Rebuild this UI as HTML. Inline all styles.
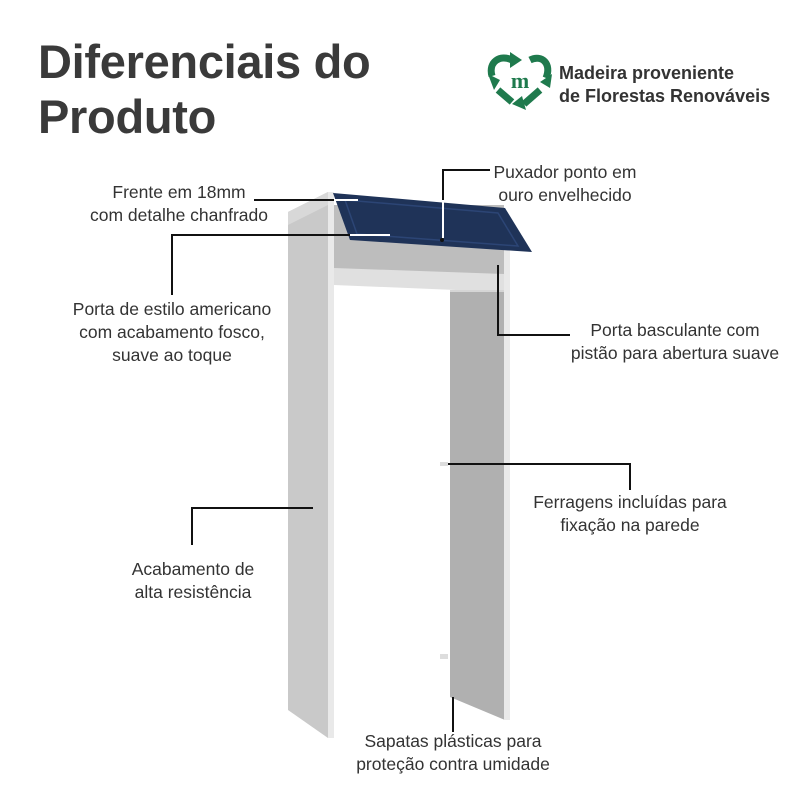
<!DOCTYPE html>
<html><head><meta charset="utf-8"><style>
html,body{margin:0;padding:0;background:#fff;}
body{width:800px;height:800px;position:relative;overflow:hidden;font-family:"Liberation Sans",sans-serif;color:#333;}
.t{position:absolute;font-size:17.5px;line-height:23px;text-align:center;white-space:nowrap;color:#333;}
h1{position:absolute;left:38px;top:34px;margin:0;font-size:47px;line-height:55px;font-weight:bold;color:#3a3a3a;letter-spacing:-0.3px;}
</style></head><body>
<h1>Diferenciais do<br>Produto</h1>
<svg width="800" height="800" style="position:absolute;left:0;top:0">
  <g fill="none" stroke="#1f7a4d" stroke-width="7" stroke-linecap="butt">
    <path d="M512 60 C500 54 488 62 492 76"/>
    <path d="M530 60 C542 54 552 64 546 78"/>
    <path d="M540 90 L524 104"/>
    <path d="M498 90 L512 102"/>
  </g>
  <g fill="#1f7a4d">
    <polygon points="510,52 522,60 510,68"/>
    <polygon points="540,82 552,74 550,88"/>
    <polygon points="522,96 526,110 512,104"/>
    <polygon points="488,74 500,80 494,90"/>
  </g>
  <text x="520" y="88" font-family="Liberation Serif,serif" font-size="22" font-weight="bold" fill="#1f7a4d" text-anchor="middle">m</text>
  <polygon points="288,212 328,192 328,738 288,710" fill="#c9c9c9"/>
  <polygon points="288,212 328,192 328,205 288,225" fill="#d8d8d8"/>
  <rect x="328" y="192" width="6" height="546" fill="#e9e9e9"/>
  <rect x="334" y="205" width="170" height="70" fill="#bdbdbd"/>
  <polygon points="334,268 504,274 504,292 334,285" fill="#e0e0e0"/>
  <rect x="450" y="290" width="55" height="10" fill="#d5d5d5"/>
  <polygon points="450,292 505,292 505,720 450,697" fill="#b0b0b0"/>
  <rect x="504" y="250" width="6" height="470" fill="#e9e9e9"/>
  <rect x="440" y="462" width="8" height="4" fill="#ddd"/>
  <rect x="440" y="654" width="8" height="5" fill="#ddd"/>
  <polygon points="333,193 505,208 532,252 350,240" fill="#1f3358"/>
  <polygon points="345,200 498,213 518,246 357,234" fill="none" stroke="#2c4575" stroke-width="1.5"/>
  <circle cx="442" cy="240" r="2" fill="#111"/>
  <g stroke="#111" stroke-width="2" fill="none">
    <polyline points="254,200 334,200"/>
    <polyline points="172,295 172,235 350,235"/>
    <polyline points="490,170 443,170 443,200"/>
    <polyline points="570,335 498,335 498,265"/>
    <polyline points="448,464 630,464 630,490"/>
    <polyline points="192,545 192,508 313,508"/>
    <polyline points="453,697 453,732"/>
  </g>
  <g stroke="#fff" stroke-width="2" fill="none">
    <polyline points="334,200 358,200"/>
    <polyline points="350,235 390,235"/>
    <polyline points="443,200 443,238"/>
  </g>
</svg>
<div class="t" style="left:559px;top:62px;font-size:18px;line-height:23px;text-align:left;font-weight:bold;color:#333">Madeira proveniente<br>de Florestas Renováveis</div>
<div class="t" style="left:54px;top:181px;width:250px">Frente em 18mm<br>com detalhe chanfrado</div>
<div class="t" style="left:47px;top:298px;width:250px">Porta de estilo americano<br>com acabamento fosco,<br>suave ao toque</div>
<div class="t" style="left:475px;top:161px;width:180px">Puxador ponto em<br>ouro envelhecido</div>
<div class="t" style="left:560px;top:319px;width:230px">Porta basculante com<br>pistão para abertura suave</div>
<div class="t" style="left:510px;top:491px;width:240px">Ferragens incluídas para<br>fixação na parede</div>
<div class="t" style="left:93px;top:558px;width:200px">Acabamento de<br>alta resistência</div>
<div class="t" style="left:328px;top:730px;width:250px">Sapatas plásticas para<br>proteção contra umidade</div>
</body></html>
